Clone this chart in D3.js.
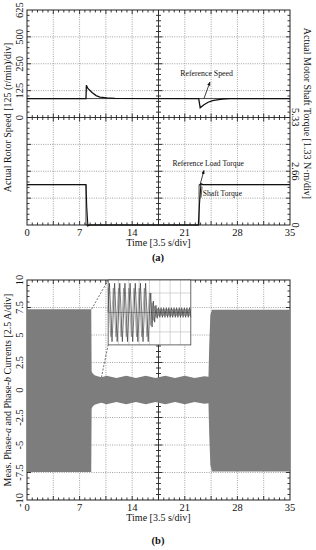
<!DOCTYPE html>
<html>
<head>
<meta charset="utf-8">
<script src="https://cdn.jsdelivr.net/npm/d3@7"></script>
<style>
  body { margin: 0; background: #fff; }
  text { font-family: "Liberation Serif", "Times New Roman", serif; fill: #111; }
</style>
</head>
<body>
<div id="chart"></div>
<script>
/* CONSTANTS AND GLOBALS */
const width = 316,
  height = 550,
  left = 27,
  right = 290;

// time axis (shared by both panels)
const timeTicks = [0, 7, 14, 21, 28, 35];

// (a) actual rotor speed [r/min]
const speedT = [0, 7.85, 7.9, 8.1, 8.65, 9.2, 9.7, 10.65, 11.7, 22.85, 23.05, 23.5, 24.1, 24.7, 25.3, 26, 27, 35];
const speedV = [88, 88, 150, 135, 116, 102, 95, 91, 89, 88, 45, 58, 71, 78, 82, 86, 88, 88];
// reference speed
const refSpeedT = [0, 35];
const refSpeedV = [88, 88];
// reference load torque [N·m]
const refTorqueT = [0, 7.85, 7.85, 22.9, 22.9, 35];
const refTorqueV = [2, 2, 0, 0, 2, 2];
// shaft torque [N·m]
const shaftT = [0, 7.85, 7.95, 8.1, 8.3, 22.8, 22.95, 23.15, 23.4, 35];
const shaftV = [2, 2, 0.9, -0.05, 0, 0, 1.0, 2.05, 2.0, 2.0];

const speedTicks = [0, 125, 250, 375, 500];
const speedTickLabels = ["0", "125", "250", "500", "625"];
const torqueTicks = [0, 2.66, 5.33];
const torqueTickLabels = ["0", "2.66", "5.33"];

// (b) phase current envelope [A]
const bandT  = [0, 8.55, 8.6, 8.75, 9.0, 9.4, 9.9, 10.6, 11.9, 13.2, 14.5, 15.8, 17.1, 18.4, 19.7, 21.0, 22.3, 23.6, 24.15, 24.25, 24.4, 24.6, 35];
const bandUp = [7.35, 7.35, 1.7, 1.5, 1.35, 1.25, 1.15, 1.3, 1.1, 1.3, 1.1, 1.3, 1.1, 1.3, 1.1, 1.3, 1.1, 1.25, 1.2, 4.0, 6.8, 7.3, 7.3];
const bandLo = [-7.45, -7.45, -1.7, -1.5, -1.35, -1.25, -1.15, -1.3, -1.1, -1.3, -1.1, -1.3, -1.1, -1.3, -1.1, -1.3, -1.1, -1.25, -1.2, -4.0, -6.8, -7.4, -7.4];
const currentTicks = [10, 7.5, 5, 2.5, 0, -2.5, -5, -7.5, -10];

// inset (zoomed phase currents, normalised)
const insetT = [0, 0.25, 0.5, 0.75, 1, 1.25, 1.5, 1.75, 2, 2.25, 2.5, 2.75, 3, 3.25, 3.5, 3.75, 4, 4.25, 4.5, 4.75, 5, 5.25, 5.5, 5.75, 6, 6.25, 6.5, 6.75, 7, 7.25, 7.5, 7.75, 8,
  8.25, 8.5, 8.75, 9, 9.25, 9.5, 9.75, 10, 10.25, 10.5, 10.75, 11, 11.25, 11.5, 11.75, 12, 12.25, 12.5, 12.75, 13, 13.25, 13.5, 13.75, 14, 14.25, 14.5, 14.75, 15, 15.25, 15.5, 15.75, 16];
const insetA = [0, 0.9, 0, -0.9, 0, 0.9, 0, -0.9, 0, 0.9, 0, -0.9, 0, 0.9, 0, -0.9, 0, 0.9, 0, -0.9, 0, 0.9, 0, -0.9, 0, 0.9, 0, -0.9, 0, 0.9, 0, -0.9, 0,
  0.6, -0.45, 0.35, -0.3, 0.22, -0.18, 0.15, -0.15, 0.15, -0.15, 0.15, -0.15, 0.15, -0.15, 0.15, -0.15, 0.15, -0.15, 0.15, -0.15, 0.15, -0.15, 0.15, -0.15, 0.15, -0.15, 0.15, -0.15, 0.15, -0.15, 0.15, -0.15];
const insetB = [0.75, 0, -0.75, 0, 0.75, 0, -0.75, 0, 0.75, 0, -0.75, 0, 0.75, 0, -0.75, 0, 0.75, 0, -0.75, 0, 0.75, 0, -0.75, 0, 0.75, 0, -0.75, 0, 0.75, 0, -0.75, 0, 0.6,
  -0.4, 0.3, -0.25, 0.2, -0.15, 0.12, -0.1, 0.1, -0.1, 0.1, -0.1, 0.1, -0.1, 0.1, -0.1, 0.1, -0.1, 0.1, -0.1, 0.1, -0.1, 0.1, -0.1, 0.1, -0.1, 0.1, -0.1, 0.1, -0.1, 0.1, -0.1, 0.1];
const insetGridT = [2, 4, 6, 8, 10, 12, 14];
const insetGridV = [-0.6, 0, 0.6];

const zip = (a, b) => a.map((d, i) => [d, b[i]]);

/* SVG */
const svg = d3.select("#chart").append("svg")
  .attr("width", width)
  .attr("height", height);

const x = d3.scaleLinear().domain([0, 35]).range([left, right]);

// draws border, dotted grid, center cross and inward ticks of a panel
function frame(g, top, bottom) {
  const div = (bottom - top) / 8;
  const mid = (top + bottom) / 2;
  const xMid = x(17.5);
  const grid = g.append("g").attr("stroke", "#8a8a8a").attr("stroke-width", 0.8).attr("stroke-dasharray", "1,1.3");
  d3.range(1, 10).forEach(i => {
    if (i === 5) return;
    grid.append("line").attr("x1", x(i * 3.5)).attr("x2", x(i * 3.5)).attr("y1", top).attr("y2", bottom);
  });
  d3.range(1, 8).forEach(i => {
    if (i === 4) return;
    grid.append("line").attr("x1", left).attr("x2", right).attr("y1", top + i * div).attr("y2", top + i * div);
  });

  const ax = g.append("g").attr("stroke", "#222").attr("stroke-width", 0.9);
  ax.append("line").attr("x1", left).attr("x2", right).attr("y1", mid).attr("y2", mid);
  ax.append("line").attr("x1", xMid).attr("x2", xMid).attr("y1", top).attr("y2", bottom);

  // horizontal ticks (every 0.7 s)
  d3.range(1, 50).forEach(i => {
    const xx = x(i * 0.7);
    const len = i % 5 === 0 ? 4 : 2.5;
    ax.append("line").attr("x1", xx).attr("x2", xx).attr("y1", top).attr("y2", top + len);
    ax.append("line").attr("x1", xx).attr("x2", xx).attr("y1", bottom).attr("y2", bottom - len);
    ax.append("line").attr("x1", xx).attr("x2", xx).attr("y1", mid - len).attr("y2", mid + len);
  });
  // vertical ticks (every 1/5 div)
  d3.range(1, 40).forEach(i => {
    const yy = top + i * div / 5;
    const len = i % 5 === 0 ? 4 : 2.5;
    ax.append("line").attr("x1", left).attr("x2", left + len).attr("y1", yy).attr("y2", yy);
    ax.append("line").attr("x1", right).attr("x2", right - len).attr("y1", yy).attr("y2", yy);
    ax.append("line").attr("x1", xMid - len).attr("x2", xMid + len).attr("y1", yy).attr("y2", yy);
  });

  g.append("rect").attr("x", left).attr("y", top).attr("width", right - left).attr("height", bottom - top)
    .attr("fill", "none").attr("stroke", "#222").attr("stroke-width", 1);

  // time labels
  g.selectAll(".xt").data(timeTicks).join("text")
    .attr("x", d => x(d)).attr("y", bottom + 10.5)
    .attr("text-anchor", "middle").attr("font-size", 10.5)
    .text(d => d);
  g.append("text").attr("x", (left + right) / 2).attr("y", bottom + 21)
    .attr("text-anchor", "middle").attr("font-size", 10)
    .text("Time [3.5 s/div]");
}

/* PANEL (a) */
const aTop = 10, aBot = 225, aMid = (aTop + aBot) / 2;
const ySpeed = d3.scaleLinear().domain([0, 500]).range([aMid, aTop]);
const yTorque = d3.scaleLinear().domain([0, 5.32]).range([aBot, aMid]);
const ga = svg.append("g");
frame(ga, aTop, aBot);

const lineSpeed = d3.line().x(d => x(d[0])).y(d => ySpeed(d[1]));
const lineTorque = d3.line().x(d => x(d[0])).y(d => yTorque(d[1]));

ga.append("path").attr("d", lineSpeed(zip(refSpeedT, refSpeedV)))
  .attr("fill", "none").attr("stroke", "#111").attr("stroke-width", 0.8);
ga.append("path").attr("d", lineSpeed(zip(speedT, speedV)))
  .attr("fill", "none").attr("stroke", "#111").attr("stroke-width", 1.3);
ga.append("path").attr("d", lineTorque(zip(refTorqueT, refTorqueV)))
  .attr("fill", "none").attr("stroke", "#111").attr("stroke-width", 0.8);
ga.append("path").attr("d", lineTorque(zip(shaftT, shaftV)))
  .attr("fill", "none").attr("stroke", "#111").attr("stroke-width", 1.1);

// speed ticks (left, rotated)
ga.selectAll(".ys").data(speedTicks).join("text")
  .attr("transform", d => `translate(23,${ySpeed(d)}) rotate(-90)`)
  .attr("text-anchor", "middle").attr("font-size", 10.5)
  .text((d, i) => speedTickLabels[i]);
ga.append("text")
  .attr("transform", `translate(11,${aMid}) rotate(-90)`)
  .attr("text-anchor", "middle").attr("font-size", 10)
  .text("Actual Rotor Speed [125 (r/min)/div]");
// torque ticks (right, rotated)
ga.selectAll(".yt").data(torqueTicks).join("text")
  .attr("transform", d => `translate(292,${yTorque(d)}) rotate(90)`)
  .attr("text-anchor", "middle").attr("font-size", 10.5)
  .text((d, i) => torqueTickLabels[i]);
ga.append("text")
  .attr("transform", `translate(304,${aMid - 4}) rotate(90)`)
  .attr("text-anchor", "middle").attr("font-size", 10)
  .text("Actual Motor Shaft Torque [1.33 N·m/div]");

// annotations
svg.append("defs").append("marker")
  .attr("id", "arr").attr("viewBox", "0 0 10 10").attr("refX", 9).attr("refY", 5)
  .attr("markerWidth", 5).attr("markerHeight", 5).attr("orient", "auto")
  .append("path").attr("d", "M0,1L10,5L0,9Z").attr("fill", "#111");

ga.append("text").attr("x", x(23.9)).attr("y", ySpeed(192))
  .attr("text-anchor", "middle").attr("font-size", 7.8).text("Reference Speed");
ga.append("line")
  .attr("x1", x(23.55)).attr("y1", ySpeed(88)).attr("x2", x(24.35)).attr("y2", ySpeed(165))
  .attr("stroke", "#111").attr("stroke-width", 0.8).attr("marker-end", "url(#arr)");

ga.append("text").attr("x", x(24.1)).attr("y", yTorque(2.9))
  .attr("text-anchor", "middle").attr("font-size", 7.6).text("Reference Load Torque");
ga.append("line")
  .attr("x1", x(23.0)).attr("y1", yTorque(1.95)).attr("x2", x(23.55)).attr("y2", yTorque(2.7))
  .attr("stroke", "#111").attr("stroke-width", 0.8).attr("marker-end", "url(#arr)");
ga.append("line")
  .attr("x1", x(23.3)).attr("y1", yTorque(1.9)).attr("x2", x(23.15)).attr("y2", yTorque(1.35))
  .attr("stroke", "#111").attr("stroke-width", 0.7);
ga.append("text").attr("x", x(23.4)).attr("y", yTorque(1.45))
  .attr("font-size", 7.6).text("Shaft Torque");

svg.append("text").attr("x", 158).attr("y", 261).attr("text-anchor", "middle")
  .attr("font-size", 10.5).attr("font-weight", "bold").text("(a)");

/* PANEL (b) */
const bTop = 280, bBot = 500;
const yCur = d3.scaleLinear().domain([-10, 10]).range([bBot, bTop]);
const gb = svg.append("g");
frame(gb, bTop, bBot);

const area = d3.area().x(d => x(d[0])).y0(d => yCur(d[2])).y1(d => yCur(d[1]));
gb.append("path")
  .attr("d", area(bandT.map((t, i) => [t, bandUp[i], bandLo[i]])))
  .attr("fill", "#7d7d7d");

// inset
const inX0 = 10.8, inX1 = 21.8, inY0 = 4.1, inY1 = 10;
const ix = d3.scaleLinear().domain([0, 16]).range([x(inX0), x(inX1)]);
const iy = d3.scaleLinear().domain([-1, 1]).range([yCur(inY0), yCur(inY1)]);

// dashed connectors
const dash = gb.append("g").attr("stroke", "#333").attr("stroke-width", 0.7).attr("stroke-dasharray", "2,1.5");
dash.append("line").attr("x1", x(8.6)).attr("y1", yCur(7.35)).attr("x2", x(inX0)).attr("y2", yCur(inY1));
dash.append("line").attr("x1", x(9.9)).attr("y1", yCur(1.15)).attr("x2", x(inX0)).attr("y2", yCur(inY0));

const ig = gb.append("g");
ig.append("rect").attr("x", x(inX0)).attr("y", yCur(inY1))
  .attr("width", x(inX1) - x(inX0)).attr("height", yCur(inY0) - yCur(inY1))
  .attr("fill", "#fff");
insetGridT.forEach(t => ig.append("line").attr("x1", ix(t)).attr("x2", ix(t))
  .attr("y1", iy(-1)).attr("y2", iy(1)).attr("stroke", "#bbb").attr("stroke-width", 0.6));
insetGridV.forEach(v => ig.append("line").attr("x1", ix(0)).attr("x2", ix(16))
  .attr("y1", iy(v)).attr("y2", iy(v)).attr("stroke", v === 0 ? "#555" : "#bbb").attr("stroke-width", 0.6));
const iline = d3.line().x(d => ix(d[0])).y(d => iy(d[1]));
ig.append("path").attr("d", iline(zip(insetT, insetB)))
  .attr("fill", "none").attr("stroke", "#777").attr("stroke-width", 0.6);
ig.append("path").attr("d", iline(zip(insetT, insetA)))
  .attr("fill", "none").attr("stroke", "#222").attr("stroke-width", 0.6);
ig.append("rect").attr("x", x(inX0)).attr("y", yCur(inY1))
  .attr("width", x(inX1) - x(inX0)).attr("height", yCur(inY0) - yCur(inY1))
  .attr("fill", "none").attr("stroke", "#444").attr("stroke-width", 0.8);

// current ticks (left, rotated)
gb.selectAll(".yc").data(currentTicks).join("text")
  .attr("transform", d => `translate(23,${yCur(d)}) rotate(-90)`)
  .attr("text-anchor", "middle").attr("font-size", 10.5)
  .text(d => d);
const ct = gb.append("text")
  .attr("transform", `translate(11,${(bTop + bBot) / 2}) rotate(-90)`)
  .attr("text-anchor", "middle").attr("font-size", 10);
ct.append("tspan").text("Meas. Phase-");
ct.append("tspan").attr("font-style", "italic").text("a");
ct.append("tspan").text(" and Phase-");
ct.append("tspan").attr("font-style", "italic").text("b");
ct.append("tspan").text(" Currents [2.5 A/div]");

svg.append("text").attr("x", 158).attr("y", 544).attr("text-anchor", "middle")
  .attr("font-size", 10.5).attr("font-weight", "bold").text("(b)");
</script>
</body>
</html>
